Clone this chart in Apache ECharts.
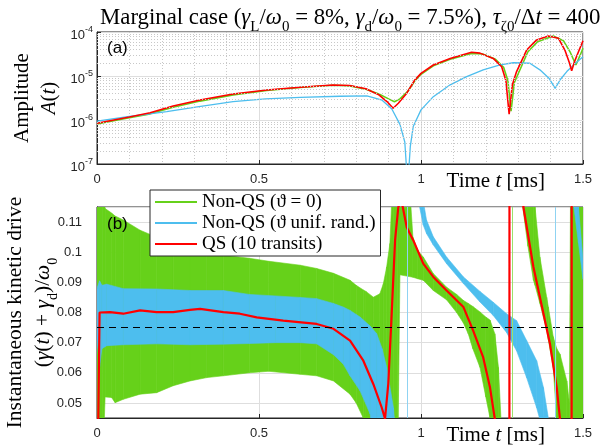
<!DOCTYPE html>
<html><head><meta charset="utf-8">
<script src="https://cdn.jsdelivr.net/npm/echarts@6/dist/echarts.min.js"></script>
<style>html,body{margin:0;padding:0;background:#fff}#c{width:611px;height:445px}</style>
</head><body><div id="c"></div>
<script>
// ---------- Panel (a): amplitude A(t) ----------
const xTicks = [0, 0.5, 1, 1.5];
const greenTopT = [0,0.1,0.164,0.235,0.318,0.42,0.524,0.627,0.728,0.78,0.83,0.87,0.9,0.918,0.935,0.96,0.98,1.0,1.038,1.09,1.156,1.19,1.23,1.255,1.268,1.278,1.288,1.30,1.33,1.36,1.408,1.44,1.46,1.478,1.49,1.5];
const greenTopA = [8.13e-7,1.122e-6,1.38e-6,1.95e-6,2.69e-6,3.72e-6,4.68e-6,5.47e-6,6.17e-6,5.96e-6,5.01e-6,3.89e-6,3.02e-6,2.61e-6,3.02e-6,4.57e-6,7.59e-6,1.096e-5,1.70e-5,2.40e-5,3.24e-5,3.16e-5,2.40e-5,1.585e-5,7.94e-6,1.585e-6,7.08e-6,1.122e-5,3.55e-5,6.03e-5,8.13e-5,6.31e-5,3.55e-5,1.78e-5,2.82e-5,4.27e-5];
const blueTopT = [0,0.1,0.215,0.32,0.42,0.52,0.627,0.75,0.833,0.88,0.91,0.935,0.95,0.959,0.967,0.976,1.0,1.038,1.09,1.141,1.192,1.244,1.285,1.336,1.367,1.395,1.414,1.43,1.45,1.475,1.5];
const blueTopA = [9.48e-7,1.20e-6,1.545e-6,2.04e-6,2.61e-6,3.02e-6,3.28e-6,3.47e-6,3.55e-6,2.82e-6,1.78e-6,7.94e-7,3.16e-7,3.16e-8,2.51e-7,7.08e-7,1.70e-6,3.39e-6,6.31e-6,9.66e-6,1.38e-5,1.78e-5,2.0e-5,1.95e-5,1.38e-5,8.91e-6,5.25e-6,8.32e-6,1.26e-5,1.91e-5,2.75e-5];
const redTopT = [0,0.1,0.164,0.235,0.318,0.42,0.524,0.627,0.728,0.78,0.83,0.87,0.895,0.914,0.93,0.956,0.98,1.0,1.038,1.09,1.156,1.182,1.223,1.249,1.262,1.272,1.282,1.295,1.326,1.357,1.393,1.424,1.444,1.458,1.465,1.475,1.486,1.5];
const redTopA = [8.41e-7,1.175e-6,1.466e-6,2.09e-6,2.85e-6,3.89e-6,4.81e-6,5.53e-6,6.24e-6,6.10e-6,5.13e-6,3.72e-6,2.63e-6,1.845e-6,2.40e-6,4.07e-6,7.94e-6,1.148e-5,1.778e-5,2.51e-5,3.47e-5,3.31e-5,2.51e-5,1.62e-5,7.94e-6,1.35e-6,6.31e-6,1.259e-5,3.89e-5,6.61e-5,8.13e-5,7.24e-5,3.89e-5,2.0e-5,1.32e-5,2.24e-5,3.55e-5,6.31e-5];

// ---------- Panel (b): instantaneous kinetic drive ----------
// bands: lower / upper envelope of the fast oscillation (values outside the axis are clipped)
const greenBandT  = [0,0.018,0.025,0.045,0.056,0.081,0.133,0.184,0.235,0.287,0.339,0.39,0.47,0.53,0.627,0.678,0.73,0.781,0.80,0.822,0.83,0.853,0.873,0.884,0.894,0.904,0.915,0.928,0.935,0.96,0.975,0.99,1.007,1.038,1.079,1.11,1.131,1.146,1.16,1.182,1.2,1.213,1.228,1.239,1.249,1.27,1.31,1.314,1.33,1.347,1.352,1.367,1.388,1.393,1.408,1.419,1.429,1.45,1.458,1.462,1.5];
const greenBandLo = [0.03,0.03,0.052,0.0518,0.0501,0.0512,0.0529,0.0534,0.0557,0.0573,0.0584,0.059,0.060,0.0605,0.0595,0.059,0.0573,0.0529,0.050,0.045,0.03,0.03,0.03,0.03,0.03,0.03,0.03,0.03,0.0925,0.092,0.0917,0.0912,0.0907,0.0873,0.0842,0.080,0.0765,0.0729,0.068,0.0618,0.052,0.045,0.03,0.03,0.03,null,0.13,0.115,0.102,0.0907,0.089,0.083,0.074,0.071,0.0618,0.0446,0.03,0.03,0.03,0.03,0.03];
const greenBandHi = [0.13,0.13,0.1145,0.113,0.112,0.1107,0.1073,0.105,0.103,0.1015,0.100,0.099,0.098,0.097,0.0957,0.0946,0.093,0.0907,0.089,0.0875,0.087,0.0851,0.0862,0.0896,0.0951,0.1029,0.13,0.13,0.13,0.13,0.105,0.1005,0.0984,0.0929,0.0884,0.086,0.084,0.083,0.082,0.0802,0.0785,0.0775,0.0729,0.0618,0.040,null,0.13,0.13,0.13,0.13,0.115,0.0984,0.085,0.0818,0.072,0.068,0.0662,0.0573,0.05,0.13,0.13];
const blueBandT  = [0,0.008,0.015,0.03,0.081,0.184,0.287,0.39,0.47,0.55,0.627,0.678,0.73,0.76,0.781,0.812,0.843,0.863,0.88,0.894,0.915,0.93,0.96,0.985,0.992,1.007,1.017,1.038,1.079,1.131,1.182,1.223,1.264,1.295,1.326,1.357,1.378,1.393,1.43,1.472,1.486,1.5];
const blueBandLo = [0.071,0.062,0.068,0.069,0.0693,0.0696,0.0693,0.0695,0.0697,0.070,0.070,0.0696,0.066,0.0629,0.059,0.054,0.0463,0.03,0.03,0.03,0.03,0.03,null,0.13,0.117,0.109,0.1062,0.1024,0.0962,0.0896,0.0835,0.079,0.0734,0.0673,0.0584,0.0484,0.040,0.03,null,0.115,0.103,0.091];
const blueBandHi = [0.088,0.0905,0.089,0.0894,0.0879,0.0878,0.0873,0.0873,0.086,0.0855,0.085,0.0846,0.083,0.0818,0.0807,0.0785,0.0755,0.073,0.068,0.0618,0.0484,0.03,null,0.13,0.13,0.117,0.1107,0.1051,0.0984,0.0918,0.087,0.0834,0.0796,0.0773,0.0707,0.064,0.0551,0.045,null,0.13,0.115,0.0975];
const redDriveT = [0,0.004,0.008,0.012,0.04,0.081,0.133,0.184,0.235,0.287,0.318,0.39,0.441,0.493,0.575,0.678,0.73,0.781,0.822,0.853,0.879,0.889,0.899,0.909,0.92,0.93,0.94,0.956,0.976,1.007,1.038,1.079,1.131,1.146,1.161,1.192,1.213,1.228,1.24,1.26,1.272,1.274,1.29,1.316,1.347,1.378,1.398,1.419,1.429,1.445,1.464,1.466,1.48,1.5];
const redDriveV = [0.03,0.045,0.080,0.0805,0.0801,0.0796,0.0807,0.0801,0.0801,0.0809,0.0812,0.0801,0.0796,0.0784,0.0773,0.0762,0.0746,0.0707,0.064,0.0562,0.0484,0.0448,0.0563,0.0784,0.104,0.115,0.117,0.1083,0.104,0.0962,0.0918,0.0873,0.0818,0.0779,0.074,0.0651,0.0551,0.0446,0.035,0.0,-0.3,0.5,0.15,0.115,0.0951,0.0796,0.0696,0.0551,0.0446,0.03,-0.3,0.5,0.2,0.15];
const greenSingularT = [1.281];
const blueSingularT = [0.959, 1.414];
const threshold = 0.075;

const names = ['Non-QS (\u03d1 = 0)', 'Non-QS (\u03d1 unif. rand.)', 'QS (10 transits)'];
const cGreen = '#66D11A', cBlue = '#4DBEEE', cRed = '#FF0000';
const serif = "'Liberation Serif', 'DejaVu Serif', serif";
const sans = "'Liberation Sans', Arial, sans-serif";
const ink = '#262626';

const pairs = (t, v) => t.map((x, i) => [x, v[i]]);
const minorLog = [];
for (let e = -7; e < -4; e++) for (let k = 2; k <= 9; k++) minorLog.push(k * Math.pow(10, e));

function bandSeries(t, lo, hi, color, z) {
  const rows = t.map((x, i) => [x, lo[i], hi[i]]);
  return {
    type: 'custom', xAxisIndex: 1, yAxisIndex: 1, clip: true, silent: true, z: z,
    data: rows, encode: {x: 0, y: [1, 2]},
    renderItem: (params, api) => {
      const i = params.dataIndex;
      if (i >= rows.length - 1) return null;
      const a = rows[i], b = rows[i + 1];
      if (a[1] == null || a[2] == null || b[1] == null || b[2] == null) return null;
      const pts = [api.coord([a[0], a[1]]), api.coord([b[0], b[1]]), api.coord([b[0], b[2]]), api.coord([a[0], a[2]])];
      return {type: 'polygon', shape: {points: pts}, style: {fill: color, stroke: color, lineWidth: 0.6}};
    }
  };
}

const chart = echarts.init(document.getElementById('c'), null, {renderer: 'canvas'});
const majorSplit = {show: true, lineStyle: {color: '#DEDEDE', width: 1}};
const mk = (fs, lh, sfs, pad) => ({
  n: {fontFamily: serif, fontSize: fs, fontWeight: 'normal', lineHeight: lh, verticalAlign: 'top', color: '#000'},
  i: {fontFamily: serif, fontSize: fs, fontWeight: 'normal', lineHeight: lh, verticalAlign: 'top', fontStyle: 'italic', color: '#000'},
  s: {fontFamily: serif, fontSize: sfs, fontWeight: 'normal', lineHeight: sfs, padding: [pad, 0, 0, 0], verticalAlign: 'top', color: '#000'}
});
const richTitle = mk(22.8, 26, 15, 13);
const richAxis = mk(21, 24, 14, 12);
const xAxisBase = (gi) => ({
  gridIndex: gi, type: 'value', min: 0, max: 1.5, interval: 0.5,
  axisLine: {show: true, onZero: false, lineStyle: {color: ink}},
  axisTick: {show: true, inside: true, length: 4, lineStyle: {color: ink}},
  axisLabel: {color: ink, fontFamily: sans, fontSize: 13, margin: 9,
    formatter: v => xTicks.includes(+v.toFixed(2)) ? String(+v.toFixed(2)) : ''},
  splitLine: majorSplit,
  name: '{n|Time }{i|t}{n| [ms]}', nameLocation: 'end', nameGap: -38,
  nameTextStyle: {align: 'right', verticalAlign: 'top', padding: [7, 0, 0, 0], rich: richAxis}
});

const option = {
  animation: false,
  backgroundColor: '#fff',
  title: {
    text: '{n|Marginal case (}{i|\u03b3}{s|L}{n|/}{i|\u03c9}{s|0}{n| = 8%, }{i|\u03b3}{s|d}{n|/}{i|\u03c9}{s|0}{n| = 7.5%), }{i|\u03c4}{s|\u03b60}{n|/\u0394}{i|t}{n| = 400}',
    left: 100, top: 7, padding: 0,
    textStyle: {fontWeight: 'normal', rich: richTitle}
  },
  legend: {
    data: names.map(n => ({name: n, icon: 'rect'})), orient: 'vertical', left: 150, top: 190,
    backgroundColor: '#fff', borderColor: ink, borderWidth: 1, borderRadius: 0,
    padding: [2, 5, 2, 5], itemGap: 1, itemWidth: 42, itemHeight: 2,
    textStyle: {fontFamily: serif, fontSize: 19, color: '#000', lineHeight: 20}
  },
  graphic: [
    {type: 'text', left: 107, top: 40, z: 100, style: {text: '(a)', font: '17px ' + sans, fill: '#000'}},
    {type: 'text', left: 107, top: 216, z: 100, style: {text: '(b)', font: '17px ' + sans, fill: '#000'}}
  ],
  grid: [
    {left: 97, right: 28, top: 32, height: 132, containLabel: false, outerBoundsMode: 'none', show: true, borderColor: ink, borderWidth: 1, backgroundColor: 'transparent'},
    {left: 97, right: 28, top: 207, height: 211, containLabel: false, outerBoundsMode: 'none', show: true, borderColor: ink, borderWidth: 1, backgroundColor: 'transparent'}
  ],
  xAxis: [
    Object.assign(xAxisBase(0), {minorTick: {show: false, splitNumber: 5}, minorSplitLine: {show: true, lineStyle: {color: '#C8C8C8', type: [1, 2], width: 1}}}),
    xAxisBase(1)
  ],
  yAxis: [
    {gridIndex: 0, type: 'log', logBase: 10, min: 1e-7, max: 1e-4, interval: 1,
     axisLine: {show: true, lineStyle: {color: ink}},
     axisTick: {show: true, inside: true, length: 4, lineStyle: {color: ink}},
     splitLine: majorSplit,
     axisLabel: {margin: 4, formatter: v => '{b|10}{p|' + Math.round(Math.log10(v)) + '}',
       rich: {b: {fontFamily: sans, fontSize: 13, color: ink, verticalAlign: 'top', padding: [4, 0, 0, 0], lineHeight: 14},
              p: {fontFamily: sans, fontSize: 9, color: ink, verticalAlign: 'top', lineHeight: 10}}},
     name: '{n|Amplitude}\n{i|A}{n|(}{i|t}{n|)}', nameLocation: 'middle', nameRotate: 90, nameGap: 34,
     nameTextStyle: {rich: {
       n: {fontFamily: serif, fontSize: 21, lineHeight: 27, color: '#000'},
       i: {fontFamily: serif, fontSize: 21, lineHeight: 27, fontStyle: 'italic', color: '#000'}}}},
    {gridIndex: 1, type: 'value', min: 0.045, max: 0.115, splitNumber: 7,
     axisLine: {show: true, onZero: false, lineStyle: {color: ink}},
     axisTick: {show: true, inside: true, length: 4, lineStyle: {color: ink}},
     splitLine: majorSplit,
     axisLabel: {color: ink, fontFamily: sans, fontSize: 13, margin: 15, showMinLabel: false, showMaxLabel: false},
     name: '{n|Instantaneous kinetic drive}\n{n|(}{i|\u03b3}{n|(}{i|t}{n|) + }{i|\u03b3}{s|d}{n|)/}{i|\u03c9}{s|0}',
     nameLocation: 'middle', nameRotate: 90, nameGap: 37, nameMoveOverlap: false,
     nameTextStyle: {rich: {
       n: {fontFamily: serif, fontSize: 21.5, lineHeight: 28, color: '#000', verticalAlign: 'top'},
       i: {fontFamily: serif, fontSize: 21.5, lineHeight: 28, fontStyle: 'italic', color: '#000', verticalAlign: 'top'},
       s: {fontFamily: serif, fontSize: 14, lineHeight: 14, padding: [14, 0, 0, 0], color: '#000', verticalAlign: 'top'}}}}
  ],
  series: [
    {type: 'line', xAxisIndex: 0, yAxisIndex: 0, data: [], silent: true, z: 1,
     markLine: {silent: true, symbol: 'none', label: {show: false}, animation: false, precision: 12,
       lineStyle: {color: '#C8C8C8', type: [1, 2], width: 1},
       data: minorLog.map(v => ({yAxis: v}))}},
    {name: names[0], type: 'line', xAxisIndex: 0, yAxisIndex: 0, data: pairs(greenTopT, greenTopA),
     symbol: 'none', lineStyle: {color: cGreen, width: 1.6}, itemStyle: {color: cGreen}, z: 3},
    {name: names[1], type: 'line', xAxisIndex: 0, yAxisIndex: 0, data: pairs(blueTopT, blueTopA),
     symbol: 'none', lineStyle: {color: cBlue, width: 1.3}, itemStyle: {color: cBlue}, z: 3},
    {name: names[2], type: 'line', xAxisIndex: 0, yAxisIndex: 0, data: pairs(redTopT, redTopA),
     symbol: 'none', lineStyle: {color: cRed, width: 1.6}, itemStyle: {color: cRed}, z: 4},

    bandSeries(greenBandT, greenBandLo, greenBandHi, cGreen, 2),
    bandSeries(blueBandT, blueBandLo, blueBandHi, cBlue, 3),
    {type: 'line', xAxisIndex: 1, yAxisIndex: 1, data: pairs(redDriveT, redDriveV),
     symbol: 'none', lineStyle: {color: cRed, width: 2.2}, silent: true, z: 4,
     markLine: {silent: true, symbol: 'none', label: {show: false}, precision: 6,
       data: [{yAxis: threshold, lineStyle: {color: '#000', type: [7, 5], width: 1}}]
         .concat(greenSingularT.map(t => ({xAxis: t, lineStyle: {color: '#9BE06A', type: 'solid', width: 1}})))
         .concat(blueSingularT.map(t => ({xAxis: t, lineStyle: {color: '#8FD3F2', type: 'solid', width: 1}})))}}
  ]
};
chart.setOption(option);
</script></body></html>
